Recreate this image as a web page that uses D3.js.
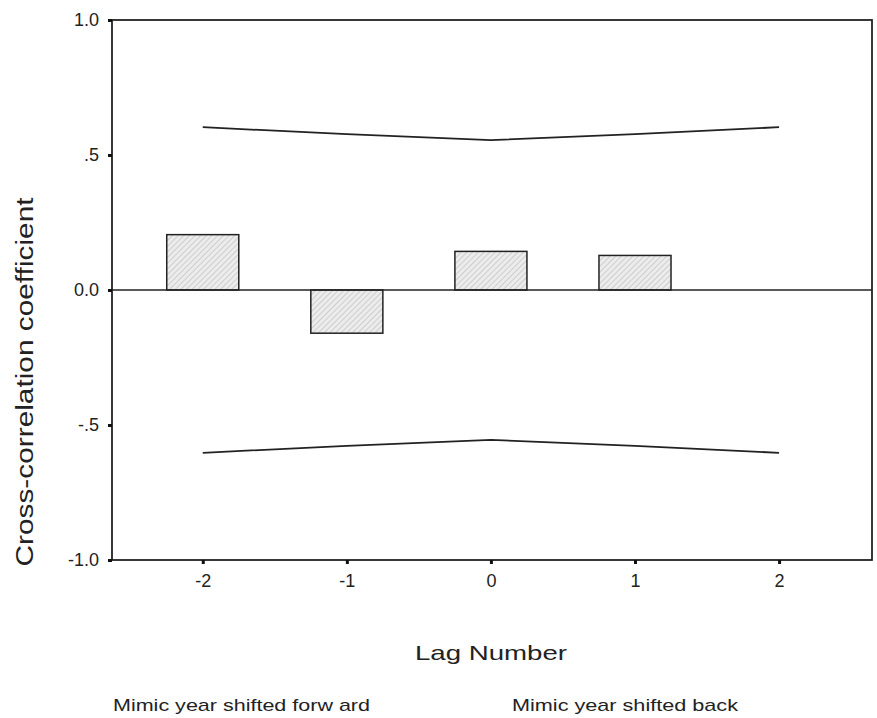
<!DOCTYPE html>
<html><head><meta charset="utf-8">
<script src="https://cdn.jsdelivr.net/npm/d3@7"></script>
<style>body{margin:0;background:#fff}svg{display:block}text{font-family:"Liberation Sans",Arial,sans-serif;fill:#222}</style>
</head><body>
<svg id="c" width="877" height="718"></svg>
<script>
const lags = [-2, -1, 0, 1, 2];
const coefficients = [0.205, -0.16, 0.143, 0.128];
const barLags = [-2, -1, 0, 1];
const upperLimit = [0.603, 0.577, 0.555, 0.577, 0.603];
const lowerLimit = [-0.603, -0.577, -0.555, -0.577, -0.603];
const yTicks = [1.0, 0.5, 0.0, -0.5, -1.0];
const yTickLabels = ["1.0", ".5", "0.0", "-.5", "-1.0"];
const xTickLabels = ["-2", "-1", "0", "1", "2"];

const svg = d3.select("#c");
const L = 112, R = 872, T = 20, B = 560;
const x = d3.scaleLinear().domain([-2.63, 2.645]).range([L, R]);
const y = d3.scaleLinear().domain([-1, 1]).range([B, T]);

const defs = svg.append("defs");
const pat = defs.append("pattern").attr("id","hatch").attr("patternUnits","userSpaceOnUse")
  .attr("width",4).attr("height",4).attr("patternTransform","rotate(45)");
pat.append("rect").attr("width",4).attr("height",4).attr("fill","#ececec");
pat.append("line").attr("x1",0).attr("y1",0).attr("x2",0).attr("y2",4).attr("stroke","#b8b8b8").attr("stroke-width",1.2);

// bars
svg.selectAll("rect.bar").data(barLags).enter().append("rect").attr("class","bar")
  .attr("x", d => x(d - 0.25))
  .attr("width", d => x(d + 0.25) - x(d - 0.25))
  .attr("y", (d,i) => y(Math.max(0, coefficients[i])))
  .attr("height", (d,i) => Math.abs(y(coefficients[i]) - y(0)))
  .attr("fill","url(#hatch)").attr("stroke","#222").attr("stroke-width",1.5);

// zero line
svg.append("line").attr("x1",L).attr("x2",R).attr("y1",y(0)).attr("y2",y(0))
  .attr("stroke","#222").attr("stroke-width",1.6);

// confidence limits
const line = d3.line().x(d => x(d[0])).y(d => y(d[1]));
[upperLimit, lowerLimit].forEach(arr => {
  svg.append("path").attr("d", line(lags.map((l,i)=>[l, arr[i]])))
    .attr("fill","none").attr("stroke","#222").attr("stroke-width",1.8);
});

// frame
svg.append("rect").attr("x",L).attr("y",T).attr("width",R-L).attr("height",B-T)
  .attr("fill","none").attr("stroke","#222").attr("stroke-width",1.8);

// y axis
const yAxis = d3.axisLeft(y).tickValues(yTicks).tickFormat((d,i)=>yTickLabels[i]).tickSize(4).tickPadding(9);
const gy = svg.append("g").attr("transform",`translate(${L},0)`).call(yAxis);
gy.select(".domain").remove();
gy.selectAll(".tick line").attr("stroke","#111").attr("stroke-width",3);
gy.selectAll(".tick text").attr("font-size",18).attr("font-family","Liberation Sans, Arial, sans-serif").attr("fill","#333");

// x axis
const xAxis = d3.axisBottom(x).tickValues(lags).tickFormat((d,i)=>xTickLabels[i]).tickSize(4).tickPadding(10);
const gx = svg.append("g").attr("transform",`translate(0,${B})`).call(xAxis);
gx.select(".domain").remove();
gx.selectAll(".tick line").attr("stroke","#111").attr("stroke-width",3);
gx.selectAll(".tick text").attr("font-size",18).attr("font-family","Liberation Sans, Arial, sans-serif").attr("fill","#333");

// titles
svg.append("text").attr("transform","translate(33,382) rotate(-90)").attr("text-anchor","middle")
  .attr("font-size",23).attr("textLength",369).attr("lengthAdjust","spacingAndGlyphs")
  .text("Cross-correlation coefficient");
svg.append("text").attr("x",491).attr("y",660).attr("text-anchor","middle")
  .attr("font-size",21).attr("textLength",152).attr("lengthAdjust","spacingAndGlyphs")
  .text("Lag Number");
svg.append("text").attr("x",113).attr("y",711)
  .attr("font-size",17).attr("textLength",257).attr("lengthAdjust","spacingAndGlyphs")
  .text("Mimic year shifted forw ard");
svg.append("text").attr("x",512).attr("y",711)
  .attr("font-size",17).attr("textLength",226).attr("lengthAdjust","spacingAndGlyphs")
  .text("Mimic year shifted back");
</script>
</body></html>
